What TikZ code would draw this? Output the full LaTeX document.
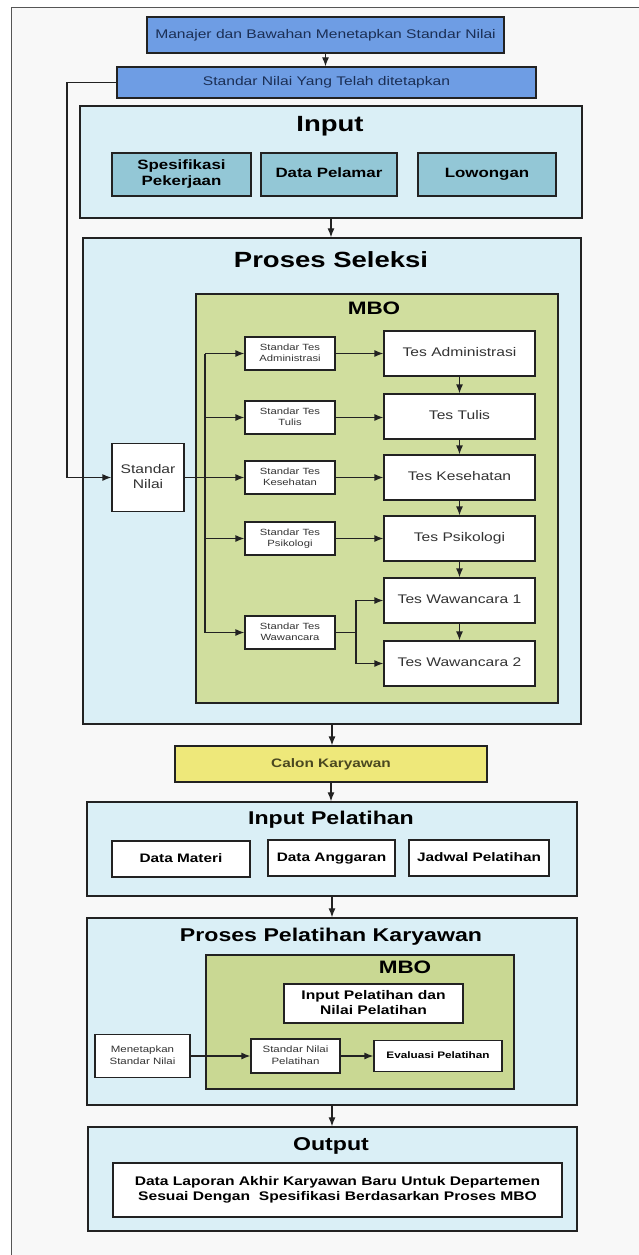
\documentclass[tikz,border=0pt]{standalone}
\usepackage{fontspec}
\usepackage{graphicx}
\setmainfont{Liberation Sans}
\usetikzlibrary{arrows.meta}
\definecolor{bgc}{HTML}{F8F8F8}
\definecolor{framec}{HTML}{555555}
\definecolor{linec}{HTML}{222222}
\definecolor{bluebox}{HTML}{6E9DE4}
\definecolor{navytext}{HTML}{1B2F55}
\definecolor{lightcyan}{HTML}{DAEFF6}
\definecolor{tealbox}{HTML}{93C7D6}
\definecolor{mbogreen}{HTML}{D0DE9E}
\definecolor{mbogreenb}{HTML}{C9D893}
\definecolor{calonyel}{HTML}{EEE87A}
\definecolor{calontext}{HTML}{4A4820}
\definecolor{graytext}{HTML}{333333}
\newcommand{\hs}[1]{\scalebox{1.25}[1]{\begin{tabular}{@{}c@{}}#1\end{tabular}}}
\tikzset{
  boxbase/.style={draw=linec, line width=1.2pt, inner sep=0pt, align=center},
  topbox/.style={boxbase, fill=bluebox, text=navytext, font=\fontsize{12.5}{15}\selectfont},
  container/.style={draw=linec, line width=1.3pt, fill=lightcyan, inner sep=0pt},
  mbobox/.style={draw=linec, line width=1.3pt, inner sep=0pt},
  tealsub/.style={boxbase, fill=tealbox, text=black, font=\fontsize{13.5}{15.5}\selectfont\bfseries},
  whitebold/.style={boxbase, fill=white, text=black, font=\fontsize{12.3}{15}\selectfont\bfseries},
  tesbox/.style={boxbase, fill=white, text=graytext, font=\fontsize{12.5}{15}\selectfont, minimum width=151pt, minimum height=45pt},
  stdbox/.style={boxbase, fill=white, text=graytext, font=\fontsize{9}{11.5}\selectfont, minimum width=90pt, minimum height=33pt},
  bigtitle/.style={anchor=base, inner sep=0pt, text=black, font=\fontsize{22}{24}\selectfont\bfseries},
  midtitle/.style={anchor=base, inner sep=0pt, text=black, font=\fontsize{18.5}{20}\selectfont\bfseries},
  arr/.style={draw=linec, line width=1.2pt, -{Latex[length=9pt,width=7pt]}},
  plainline/.style={draw=linec, line width=1.2pt},
}
\begin{document}
\begin{tikzpicture}[x=1pt,y=-1pt]
\useasboundingbox (0,0) rectangle (639,1255);
% outer frame
\fill[white] (0,0) rectangle (639,1255);
\fill[bgc] (11,8) rectangle (639,1255);
\draw[framec, line width=1pt] (11,1255) -- (11,8) -- (639,8);

% top boxes
\node[topbox, minimum width=357pt, minimum height=36pt] (mgr) at (325.5,35) {\hs{Manajer dan Bawahan Menetapkan Standar Nilai}};
\node[topbox, minimum width=419pt, minimum height=31pt] (snt) at (326.5,82.5) {\hs{Standar Nilai Yang Telah ditetapkan}};

% Input
\node[container, minimum width=502pt, minimum height=112pt] (input) at (331,162) {};
\node[bigtitle] (inputt) at (330,132) {\hs{Input}};
\node[tealsub, minimum width=139pt, minimum height=43pt] (spes) at (181.5,174.5) {\hs{Spesifikasi\\Pekerjaan}};
\node[tealsub, minimum width=136pt, minimum height=43pt] (dpel) at (329,174.5) {\hs{Data Pelamar}};
\node[tealsub, minimum width=138pt, minimum height=43pt] (low) at (487,174.5) {\hs{Lowongan}};

% Proses Seleksi
\node[container, minimum width=498pt, minimum height=486pt] (sel) at (332,481) {};
\node[bigtitle] (selt) at (331,268) {\hs{Proses Seleksi}};
\node[mbobox, fill=mbogreen, minimum width=362pt, minimum height=409pt] (mbo1) at (377,498.5) {};
\node[anchor=base, inner sep=0pt, font=\fontsize{18}{20}\selectfont\bfseries] (mbo1t) at (374,315) {\hs{MBO}};

\node[boxbase, fill=white, text=graytext, font=\fontsize{12.5}{15}\selectfont, minimum width=72pt, minimum height=68pt] (sn) at (148,477.5) {\hs{Standar\\Nilai}};

\node[stdbox] (st1) at (290,353.5) {\hs{Standar Tes\\Administrasi}};
\node[stdbox] (st2) at (290,417.5) {\hs{Standar Tes\\Tulis}};
\node[stdbox] (st3) at (290,477.5) {\hs{Standar Tes\\Kesehatan}};
\node[stdbox] (st4) at (290,538.5) {\hs{Standar Tes\\Psikologi}};
\node[stdbox] (st5) at (290,632.5) {\hs{Standar Tes\\Wawancara}};

\node[tesbox] (t1) at (459.5,353.5) {\hs{Tes Administrasi}};
\node[tesbox] (t2) at (459.5,416.5) {\hs{Tes Tulis}};
\node[tesbox] (t3) at (459.5,477.5) {\hs{Tes Kesehatan}};
\node[tesbox] (t4) at (459.5,538.5) {\hs{Tes Psikologi}};
\node[tesbox] (t5) at (459.5,600.5) {\hs{Tes Wawancara 1}};
\node[tesbox] (t6) at (459.5,663.5) {\hs{Tes Wawancara 2}};

% Calon
\node[boxbase, fill=calonyel, text=calontext, font=\fontsize{12.3}{15}\selectfont\bfseries, minimum width=312pt, minimum height=36pt] (calon) at (331,764) {\hs{Calon Karyawan}};

% Input Pelatihan
\node[container, minimum width=490pt, minimum height=94pt] (inpel) at (332,849) {};
\node[midtitle] (inpelt) at (331,825) {\hs{Input Pelatihan}};
\node[whitebold, minimum width=138pt, minimum height=36pt] (dm) at (181,859) {\hs{Data Materi}};
\node[whitebold, minimum width=127pt, minimum height=36pt] (da) at (331.5,858) {\hs{Data Anggaran}};
\node[whitebold, minimum width=140pt, minimum height=36pt] (jp) at (479,858) {\hs{Jadwal Pelatihan}};

% Proses Pelatihan Karyawan
\node[container, minimum width=490pt, minimum height=187pt] (ppk) at (332,1011.5) {};
\node[midtitle] (ppkt) at (331,942) {\hs{Proses Pelatihan Karyawan}};
\node[mbobox, fill=mbogreenb, minimum width=308pt, minimum height=134pt] (mbo2) at (360,1022) {};
\node[anchor=base, inner sep=0pt, font=\fontsize{18}{20}\selectfont\bfseries] (mbo2t) at (405,974) {\hs{MBO}};
\node[whitebold, font=\fontsize{12.5}{15}\selectfont\bfseries, minimum width=179pt, minimum height=39pt] (ipn) at (373.5,1003.5) {\hs{Input Pelatihan dan\\Nilai Pelatihan}};
\node[boxbase, fill=white, text=graytext, font=\fontsize{9.2}{12}\selectfont, minimum width=95pt, minimum height=43pt] (men) at (142.5,1056) {\hs{Menetapkan\\Standar Nilai}};
\node[boxbase, fill=white, text=graytext, font=\fontsize{9.2}{12}\selectfont, minimum width=89pt, minimum height=34pt] (snp) at (295.5,1056) {\hs{Standar Nilai\\Pelatihan}};
\node[whitebold, font=\fontsize{9.4}{12}\selectfont\bfseries, minimum width=128pt, minimum height=31pt] (eva) at (438,1056) {\hs{Evaluasi Pelatihan}};

% Output
\node[container, minimum width=489pt, minimum height=104pt] (out) at (332.5,1179) {};
\node[midtitle] (outt) at (331,1151) {\hs{Output}};
\node[whitebold, font=\fontsize{12.5}{15}\selectfont\bfseries, minimum width=449pt, minimum height=54pt] (outtxt) at (337.5,1190) {\hs{Data Laporan Akhir Karyawan Baru Untuk Departemen\\Sesuai Dengan\ \ Spesifikasi Berdasarkan Proses MBO}};

% connectors
\draw[arr] (mgr.south) -- (mgr.south |- snt.north);
\coordinate (lc) at (67,300);
\draw[arr] (snt.west) -| (lc) |- (sn.west);
\draw[arr] (input.south) -- (input.south |- sel.north);

\coordinate (bus) at (205,0);
\draw[plainline] (bus |- st1.west) -- (bus |- st5.west);
\draw[arr] (sn.east) -- (st3.west);
\draw[arr] (bus |- st1.west) -- (st1.west);
\draw[arr] (bus |- st2.west) -- (st2.west);
\draw[arr] (bus |- st4.west) -- (st4.west);
\draw[arr] (bus |- st5.west) -- (st5.west);

\draw[arr] (st1.east) -- (st1.east -| t1.west);
\draw[arr] (st2.east) -- (st2.east -| t2.west);
\draw[arr] (st3.east) -- (st3.east -| t3.west);
\draw[arr] (st4.east) -- (st4.east -| t4.west);
\coordinate (br) at (356,0);
\draw[plainline] (st5.east) -- (br |- st5.east);
\draw[arr] (br |- st5.east) |- (t5.west);
\draw[arr] (br |- st5.east) |- (t6.west);

\draw[arr] (t1.south) -- (t2.north);
\draw[arr] (t2.south) -- (t3.north);
\draw[arr] (t3.south) -- (t4.north);
\draw[arr] (t4.south) -- (t5.north);
\draw[arr] (t5.south) -- (t6.north);

\draw[arr] (sel.south) -- (sel.south |- calon.north);
\draw[arr] (calon.south) -- (calon.south |- inpel.north);
\draw[arr] (inpel.south) -- (inpel.south |- ppk.north);
\draw[arr] (men.east) -- (snp.west);
\draw[arr] (snp.east) -- (eva.west);
\draw[arr] (ppk.south) -- (ppk.south |- out.north);
\end{tikzpicture}
\end{document}
